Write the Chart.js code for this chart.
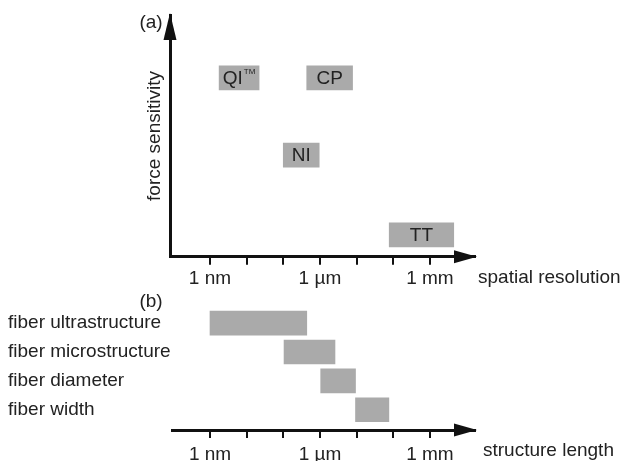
<!DOCTYPE html>
<html lang="en">

<head>
    <meta charset="UTF-8">
    <title>AFM modes vs. structure length</title>
    <script src="https://cdn.jsdelivr.net/npm/chart.js"></script>
    <style>
        body {
            margin: 0;
            padding: 0;
            background: #fff;
            width: 621px;
            height: 461px;
            overflow: hidden;
            position: relative;
        }

        .panel {
            position: absolute;
            left: 0;
        }
    </style>
</head>

<body>
    <div class="panel" style="top: 0;">
        <canvas id="modesChart" width="621" height="300"></canvas>
    </div>
    <div class="panel" style="top: 290px;">
        <canvas id="structChart" width="621" height="175"></canvas>
    </div>

    <script>
        // log10 of length in metres
        const tickExps = [-9, -8, -7, -6, -5, -4, -3];
        const tickLabels = ['1 nm', '', '', '1 \u00b5m', '', '', '1 mm'];

        // (a) measurement modes: resolution range (log10 m) and force sensitivity (arb.)
        const modeNames = ['QI\u2122', 'CP', 'NI', 'TT'];
        const modeRanges = [[-8.75, -7.66], [-6.36, -5.11], [-7.0, -6.02], [-4.11, -2.35]];
        const modeSensitivity = [7.4, 7.4, 4.2, 0.9];

        // (b) fiber structure levels: length range (log10 m)
        const structNames = ['fiber ultrastructure', 'fiber microstructure', 'fiber diameter', 'fiber width'];
        const structRanges = [[-9.0, -6.36], [-6.98, -5.59], [-5.98, -5.03], [-5.03, -4.12]];

        const FONT = '"Liberation Sans", Arial, sans-serif';
        const TEXT = '#222';
        const AXIS = '#111';
        const BOX = '#aaaaaa';

        Chart.defaults.font.family = FONT;
        Chart.defaults.font.size = 19;
        Chart.defaults.color = TEXT;

        function lengthAxis(min, labelGap) {
            return {
                type: 'linear',
                position: 'bottom',
                min: min,
                max: -1.77,
                offset: false,
                afterBuildTicks: s => { s.ticks = tickExps.map(v => ({ value: v })); },
                ticks: {
                    autoSkip: false,
                    maxRotation: 0,
                    padding: labelGap,
                    color: TEXT,
                    callback: v => tickLabels[tickExps.indexOf(v)] ?? ''
                },
                grid: { display: true, drawOnChartArea: false, tickLength: 8, lineWidth: 2, color: AXIS },
                border: { display: true, width: 3, color: AXIS }
            };
        }

        function arrow(ctx, x, y, dir) {
            ctx.save();
            ctx.fillStyle = AXIS;
            ctx.beginPath();
            if (dir === 'right') {
                ctx.moveTo(x + 2, y);
                ctx.lineTo(x - 21, y - 6.5);
                ctx.lineTo(x - 21, y + 6.5);
            } else {
                ctx.moveTo(x, y - 2);
                ctx.lineTo(x - 6.5, y + 25);
                ctx.lineTo(x + 6.5, y + 25);
            }
            ctx.closePath();
            ctx.fill();
            ctx.restore();
        }

        // draws a name, turning a trailing ™ into a small raised "TM"
        function boxLabel(ctx, name, cx, cy) {
            if (!name.endsWith('\u2122')) {
                ctx.textAlign = 'center';
                ctx.fillText(name, cx, cy);
                return;
            }
            const base = name.slice(0, -1);
            ctx.font = '19px ' + FONT;
            const wb = ctx.measureText(base).width;
            ctx.font = '8px ' + FONT;
            const ws = ctx.measureText('TM').width;
            const x0 = cx - (wb + ws + 1) / 2;
            ctx.textAlign = 'left';
            ctx.fillText('TM', x0 + wb + 1, cy - 7);
            ctx.font = '19px ' + FONT;
            ctx.fillText(base, x0, cy);
        }

        const modesDecor = {
            id: 'modesDecor',
            afterDraw(chart) {
                const { ctx, chartArea } = chart;
                arrow(ctx, chartArea.right, chartArea.bottom, 'right');
                arrow(ctx, chartArea.left, chartArea.top, 'up');

                ctx.save();
                ctx.fillStyle = TEXT;
                ctx.font = '19px ' + FONT;
                ctx.textBaseline = 'middle';

                chart.getDatasetMeta(0).data.forEach((bar, i) => {
                    boxLabel(ctx, modeNames[i], (bar.x + bar.base) / 2, bar.y + 1);
                });

                ctx.textAlign = 'center';
                ctx.fillText('(a)', 151, 23);
                ctx.textAlign = 'left';
                ctx.fillText('spatial resolution', 478, 278);

                ctx.translate(155, 136);
                ctx.rotate(-Math.PI / 2);
                ctx.textAlign = 'center';
                ctx.fillText('force sensitivity', 0, 0);
                ctx.restore();
            }
        };

        const structDecor = {
            id: 'structDecor',
            afterDraw(chart) {
                const { ctx, chartArea } = chart;
                arrow(ctx, chartArea.right, chartArea.bottom, 'right');
                ctx.save();
                ctx.fillStyle = TEXT;
                ctx.font = '19px ' + FONT;
                ctx.textBaseline = 'middle';
                ctx.textAlign = 'center';
                ctx.fillText('(b)', 151, 12);
                ctx.textAlign = 'left';
                ctx.fillText('structure length', 483, 161);
                ctx.restore();
            }
        };

        const common = {
            responsive: false,
            animation: false,
            indexAxis: 'y',
            plugins: { legend: { display: false }, tooltip: { enabled: false } }
        };

        // (a) modes
        new Chart(document.getElementById('modesChart'), {
            type: 'bar',
            data: {
                datasets: [{
                    data: modeNames.map((n, i) => ({ x: modeRanges[i], y: modeSensitivity[i] })),
                    backgroundColor: BOX,
                    borderWidth: 0,
                    barThickness: 24
                }]
            },
            options: {
                ...common,
                layout: { padding: { left: 170, right: 146, top: 15, bottom: 0 } },
                scales: {
                    x: { ...lengthAxis(-10.09, 3), afterFit: s => { s.height = 43.3; } },
                    y: {
                        type: 'linear',
                        min: 0,
                        max: 10,
                        offset: false,
                        ticks: { display: false },
                        grid: { display: false },
                        border: { display: true, width: 3, color: AXIS },
                        afterFit: s => { s.width = 0; }
                    }
                }
            },
            plugins: [modesDecor]
        });

        // (b) structure levels
        new Chart(document.getElementById('structChart'), {
            type: 'bar',
            data: {
                datasets: [{
                    data: structNames.map((n, i) => ({ x: structRanges[i], y: i + 1 })),
                    backgroundColor: BOX,
                    borderWidth: 0,
                    barThickness: 24
                }]
            },
            options: {
                ...common,
                layout: { padding: { left: 8, right: 146, top: 10, bottom: 0 } },
                scales: {
                    x: { ...lengthAxis(-10.037, 5), afterFit: s => { s.height = 35; } },
                    y: {
                        type: 'linear',
                        reverse: true,
                        min: 0.2,
                        max: 4.7,
                        offset: false,
                        afterBuildTicks: s => { s.ticks = structNames.map((n, i) => ({ value: i + 1 })); },
                        ticks: {
                            crossAlign: 'far',
                            color: TEXT,
                            callback: v => structNames[v - 1]
                        },
                        grid: { display: false },
                        border: { display: false },
                        afterFit: s => {
                            s.width = 164;
                            // labels sit well inside the area; no extra room needed
                            s.paddingTop = 0;
                            s.paddingBottom = 0;
                        }
                    }
                }
            },
            plugins: [structDecor]
        });
    </script>
</body>

</html>
